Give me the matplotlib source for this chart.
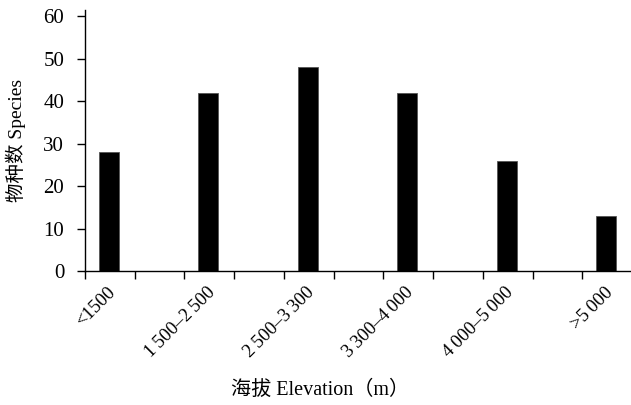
import matplotlib
matplotlib.use("Agg")
import matplotlib.pyplot as plt
import numpy as np

# elevation bands and species counts
categories = ["<1500", "1\u2009500\u20132\u2009500", "2\u2009500\u20133\u2009300",
              "3\u2009300\u20134\u2009000", "4\u2009000\u20135\u2009000", ">5\u2009000"]
species = [28, 42, 48, 42, 26, 13]

plt.rcParams["font.family"] = ["Liberation Serif", "Noto Sans CJK SC", "DejaVu Sans"]

fig = plt.figure(figsize=(6.31, 4.05), dpi=100)
ax = fig.add_axes([85 / 631, 134 / 405, 545 / 631, 261 / 405])

x = np.arange(len(categories))
bar_pos = x + 0.24
ax.bar(bar_pos, species, width=0.2, color="black", edgecolor="#555555", linewidth=0.6)

ax.set_xlim(0, 5.48)
ax.set_ylim(0, 61.5)
ax.set_yticks(range(0, 61, 10))
ax.tick_params(axis="y", direction="out", length=6, width=1, labelsize=15, pad=9)

ax.set_xticks(np.arange(0, 5.01, 0.5))
ax.set_xticklabels([])
ax.tick_params(axis="x", direction="out", length=6, width=1)
for pos, lab in zip(bar_pos, categories):
    ax.text(pos - 0.02, -3.0, lab, rotation=45, ha="right", va="top",
            rotation_mode="anchor", fontsize=13.5, transform=ax.transData)

for s in ["top", "right"]:
    ax.spines[s].set_visible(False)
for s in ["left", "bottom"]:
    ax.spines[s].set_linewidth(1)

ax.set_ylabel("物种数 Species", fontsize=14)
ax.yaxis.set_label_coords(-0.108, 0.50)
ax.set_xlabel("海拔 Elevation（m）", fontsize=14.5)
ax.xaxis.set_label_coords(0.431, -0.421)

fig.savefig("out.png", dpi=100)
